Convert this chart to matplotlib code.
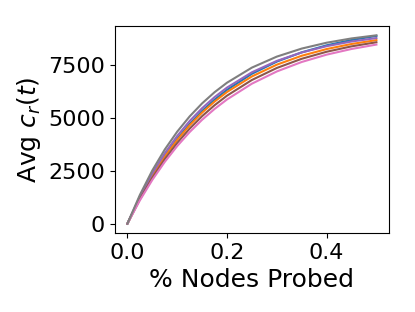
import matplotlib
matplotlib.use("Agg")
import matplotlib.pyplot as plt

x = [0.0, 0.025, 0.05, 0.075, 0.1, 0.125, 0.15, 0.175, 0.2, 0.25, 0.3, 0.35, 0.4, 0.45, 0.5]
blue = [0, 1222, 2286, 3214, 4023, 4728, 5342, 5877, 6344, 7105, 7683, 8122, 8455, 8708, 8901]
orange = [0, 1210, 2262, 3178, 3973, 4664, 5265, 5788, 6242, 6980, 7538, 7960, 8278, 8519, 8702]
purple = [0, 1282, 2386, 3337, 4158, 4866, 5475, 6000, 6452, 7177, 7717, 8118, 8414, 8636, 8800]
brown = [0, 1156, 2168, 3053, 3827, 4505, 5097, 5615, 6069, 6812, 7381, 7817, 8150, 8406, 8601]
pink = [0, 1102, 2073, 2927, 3679, 4342, 4925, 5438, 5889, 6637, 7216, 7665, 8013, 8282, 8491]
gray = [0, 1359, 2521, 3514, 4361, 5085, 5703, 6232, 6683, 7399, 7920, 8301, 8579, 8782, 8930]

series = [(blue, "tab:blue"), (orange, "tab:orange"), (purple, "tab:purple"),
          (brown, "tab:brown"), (pink, "tab:pink"), (gray, "tab:gray")]

fig = plt.figure(figsize=(4.15, 3.12), dpi=100)
ax = fig.add_axes([0.277, 0.253, 0.66, 0.664])
for ys, c in series:
    ax.plot(x, ys, color=c, lw=1.5)
ax.set_xticks([0.0, 0.2, 0.4])
ax.set_yticks([0, 2500, 5000, 7500])
ax.tick_params(labelsize=16)
ax.set_xlabel("% Nodes Probed", fontsize=18)
ax.set_ylabel("Avg $c_r(t)$", fontsize=18)
fig.savefig("out.png", dpi=100)
